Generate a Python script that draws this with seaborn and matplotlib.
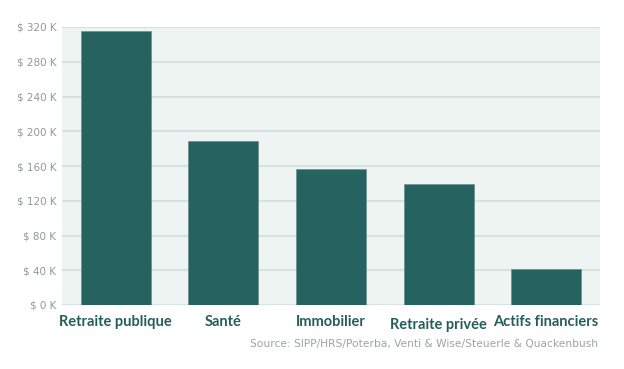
import pandas as pd
import matplotlib
matplotlib.use('Agg')
import matplotlib.pyplot as plt
import matplotlib.transforms as mtransforms
import seaborn as sns

# Données (en dollars)
categories = ['Retraite publique', 'Santé', 'Immobilier', 'Retraite privée', 'Actifs financiers']
valeurs = [315000, 189000, 157000, 139000, 41000]
graduations = [0, 40000, 80000, 120000, 160000, 200000, 240000, 280000, 320000]
etiquettes = ['$ 0 K', '$ 40 K', '$ 80 K', '$ 120 K', '$ 160 K', '$ 200 K', '$ 240 K', '$ 280 K', '$ 320 K']
source = 'Source: SIPP/HRS/Poterba, Venti & Wise/Steuerle & Quackenbush'

df = pd.DataFrame({'categorie': categories, 'valeur': valeurs})

sns.set_theme(style='white')
plt.rcParams['font.family'] = ['DejaVu Sans']

fig = plt.figure(figsize=(6.24, 3.69), dpi=100)
ax = fig.add_axes([62 / 624, 1 - 305 / 369, 538 / 624, 278 / 369])
ax.set_facecolor('#eef4f1')

sns.barplot(data=df, x='categorie', y='valeur', color='#266260', saturation=1,
            width=0.65, edgecolor='#5e8a88', linewidth=0.4, ax=ax, zorder=3)

ax.set_ylim(0, 320000)
ax.set_xlim(-0.5, 4.5)
ax.set_yticks(graduations)
ax.set_yticklabels(etiquettes, color='#8e9a98', fontsize=7.5)
ax.yaxis.grid(True, color='#d6e2e2', linewidth=1.5, zorder=0)
ax.set_axisbelow(True)
ax.tick_params(axis='y', length=0, pad=4)
ax.tick_params(axis='x', length=0, pad=7)
ax.set_xticks(range(len(categories)))
ax.set_xticklabels(categories, fontsize=10.5, fontweight='bold', color='#245e5c',
                   family=['Lato', 'DejaVu Sans'])
# "Retraite privée" est un peu plus bas dans l'original
lab = ax.get_xticklabels()[3]
lab.set_transform(lab.get_transform() + mtransforms.ScaledTranslation(0, -2 / 72, fig.dpi_scale_trans))
ax.set_xlabel('')
ax.set_ylabel('')
for s in ax.spines.values():
    s.set_visible(False)

fig.text(598 / 624, 1 - 344 / 369, source, ha='right', va='center',
         fontsize=7.7, color='#9aa5a3')

fig.savefig('out.png', dpi=100)
